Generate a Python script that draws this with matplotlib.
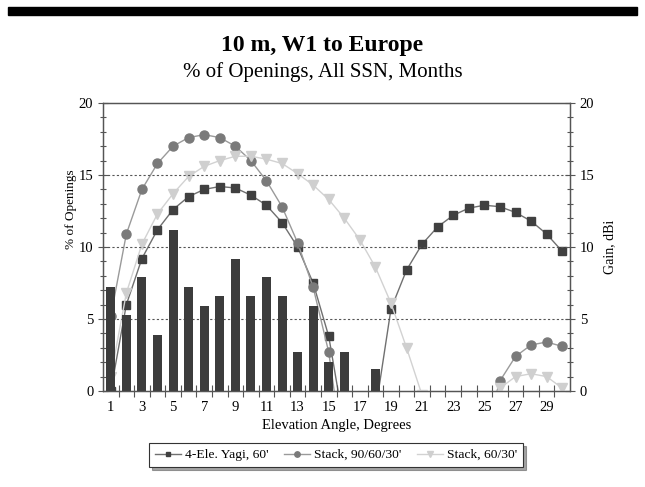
import numpy as np
import matplotlib
matplotlib.use("Agg")
import matplotlib.pyplot as plt
from matplotlib.ticker import MultipleLocator, FixedLocator

plt.rcParams['font.family'] = ['Liberation Serif', 'DejaVu Serif']

# -----------------------------
# Data
angles = list(range(1, 31))
openings = [7.2, 5.3, 7.9, 3.9, 11.2, 7.2, 5.9, 6.6, 9.2, 6.6,
            7.9, 6.6, 2.7, 5.9, 2.0, 2.7, 0, 1.5, 0, 0,
            0, 0, 0, 0, 0, 0, 0, 0, 0, 0]
yagi_gain = [0.0, 6.0, 9.2, 11.2, 12.6, 13.5, 14.0, 14.2, 14.1, 13.6,
             12.9, 11.7, 10.0, 7.5, 3.8, -2.5, -5.0, -1.4, 5.7, 8.4,
             10.2, 11.4, 12.2, 12.7, 12.9, 12.8, 12.4, 11.8, 10.9, 9.7]
stack3_gain = [5.2, 10.9, 14.0, 15.8, 17.0, 17.6, 17.8, 17.6, 17.0, 16.0,
               14.6, 12.8, 10.3, 7.2, 2.7, -5.0, -10.0, -12.0, -13.0, -13.0,
               -12.0, -10.0, -8.0, -6.0, -3.0, 0.7, 2.4, 3.2, 3.4, 3.1]
stack2_gain = [1.0, 6.8, 10.2, 12.3, 13.7, 14.9, 15.6, 16.0, 16.3, 16.3,
               16.1, 15.8, 15.1, 14.3, 13.3, 12.0, 10.5, 8.6, 6.1, 3.0,
               -0.3, -3.0, -4.0, -3.0, -1.5, 0.2, 1.0, 1.2, 1.0, 0.2]
labels = ['4-Ele. Yagi, 60\'', 'Stack, 90/60/30\'', 'Stack, 60/30\'']

# -----------------------------
# Figure
fig = plt.figure(figsize=(6.45, 4.87), dpi=100)

# black band at the top of the page
fig.add_artist(plt.Rectangle((8 / 645, 1 - 15 / 487), 629 / 645, 8 / 487,
                             transform=fig.transFigure, color='black'))

fig.text(0.5, 1 - 45 / 487, '10 m, W1 to Europe', ha='center', va='center',
         fontsize=17, fontweight='bold')
fig.text(0.5, 1 - 72 / 487, '% of Openings, All SSN, Months', ha='center',
         va='center', fontsize=15)

ax = fig.add_axes([103 / 645, 1 - 391 / 487, 467 / 645, 288 / 487])
ax2 = ax.twinx()
ax.set_zorder(2)
ax.patch.set_visible(False)

ax.bar(angles, openings, width=0.58, color='#3c3c3c', zorder=2)

ax2.plot(angles, yagi_gain, color='#707070', lw=1.0, marker='s', ms=6,
         mfc='#404040', mec='#404040', label=labels[0], zorder=3)
ax2.plot(angles, stack3_gain, color='#9a9a9a', lw=1.0, marker='o', ms=6.5,
         mfc='#7a7a7a', mec='#7a7a7a', label=labels[1], zorder=3)
ax2.plot(angles, stack2_gain, color='#d2d2d2', lw=1.0, marker='v', ms=7,
         mfc='#cfcfcf', mec='#cfcfcf', label=labels[2], zorder=3)

for a in (ax, ax2):
    a.set_ylim(0, 20)
    a.set_xlim(0.5, 30.5)
    a.yaxis.set_major_locator(MultipleLocator(5))
    a.yaxis.set_minor_locator(MultipleLocator(1))
    a.tick_params(axis='y', which='major', direction='inout', length=7,
                  width=0.8, color='#555555', labelsize=10.5)
    a.tick_params(axis='y', which='minor', direction='inout', length=4,
                  width=0.8, color='#555555')
    for s in a.spines.values():
        s.set_color('#555555')
        s.set_linewidth(0.9)

for y in (5, 10, 15):
    ax.axhline(y, color='#555555', lw=0.8, ls=(0, (2, 2)), zorder=1)

ax.set_xticks(range(1, 31, 2))
ax.set_xticklabels([str(i) for i in range(1, 31, 2)], fontsize=10.5)
ax.xaxis.set_minor_locator(FixedLocator(np.arange(1.5, 30.5, 1)))
ax.tick_params(axis='x', which='major', length=0, pad=7)
ax.tick_params(axis='x', which='minor', direction='inout', length=8,
               width=0.8, color='#555555')

ax.set_xlabel('Elevation Angle, Degrees', fontsize=10.5, labelpad=4)
ax.set_ylabel('% of Openings', fontsize=9.5)
ax.yaxis.set_label_coords(-0.055, 0.63)
ax2.set_ylabel('Gain, dBi', fontsize=10, labelpad=6)

leg = ax2.legend(loc='center', bbox_to_anchor=(336 / 645, 1 - 455 / 487),
                 bbox_transform=fig.transFigure, ncol=3, fontsize=9.7,
                 frameon=True, fancybox=False, shadow=True, markerscale=0.6,
                 handlelength=1.9, handletextpad=0.3, columnspacing=1.2,
                 borderpad=0.45)
leg.get_frame().set_edgecolor('#333333')
leg.get_frame().set_linewidth(0.8)

plt.savefig('out.png', dpi=100)
